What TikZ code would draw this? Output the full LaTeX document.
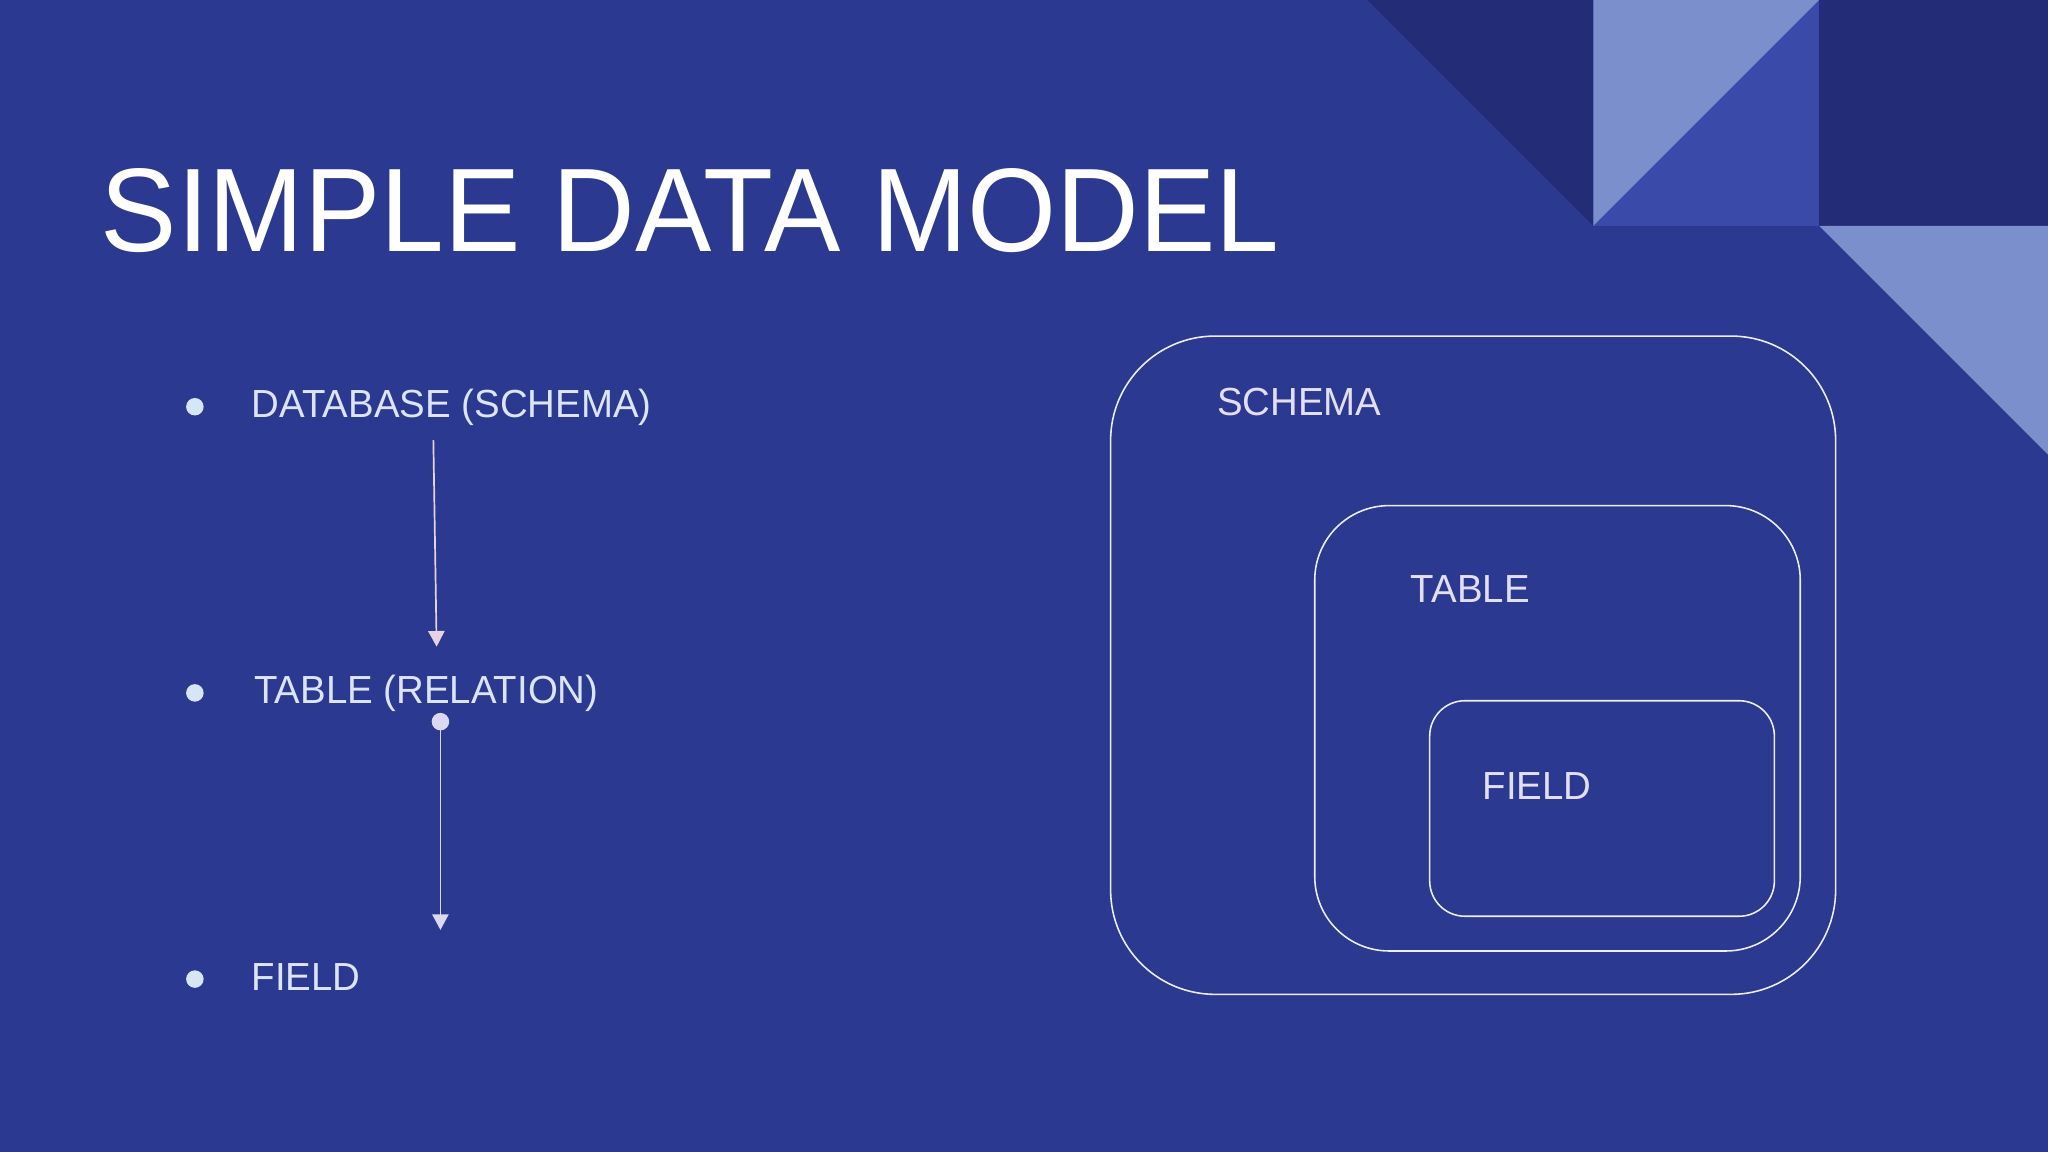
\documentclass[tikz,border=0pt]{standalone}
\usepackage{fontspec}
\setmainfont[FakeStretch=0.98]{Liberation Sans}
\newfontfamily\titlefont[FakeStretch=0.963]{Liberation Sans}
\usetikzlibrary{arrows.meta}
\definecolor{bgblue}{HTML}{2B3990}
\definecolor{darktri}{HTML}{222C77}
\definecolor{lighttri}{HTML}{7A8FCB}
\definecolor{midtri}{HTML}{394AA8}
\definecolor{itemtext}{HTML}{DCE4F7}
\definecolor{bulletcol}{HTML}{D6E6F7}
\definecolor{arrowpink}{HTML}{E8D2E2}
\definecolor{arrowlav}{HTML}{DCD8F0}
\definecolor{boxline}{HTML}{ECEEF8}
\definecolor{boxtext}{HTML}{E2DFF2}
\tikzset{
  itemlabel/.style={anchor=base west, inner sep=0pt, text=itemtext, font=\fontsize{30}{36}\selectfont},
  boxlabel/.style={anchor=base west, inner sep=0pt, text=boxtext, font=\fontsize{30}{36}\selectfont},
  bulletdot/.style={circle, fill=bulletcol, inner sep=0pt, minimum size=13.4pt},
  nestbox/.style={draw=boxline, line width=1.2pt, rectangle, inner sep=0pt},
  flowarrow/.style={line width=1.3pt, -{Triangle[width=12.5pt,length=12pt]}}
}
\begin{document}
\begin{tikzpicture}[x=1pt,y=-1pt]
\useasboundingbox (0,0) rectangle (1568,882);
\fill[bgblue] (0,0) rectangle (1568,882);
% decorative corner shapes
\fill[darktri] (1047,0) -- (1220,0) -- (1220,173) -- cycle;
\fill[lighttri] (1220,0) -- (1393,0) -- (1220,173) -- cycle;
\fill[midtri] (1393,0) -- (1393,173) -- (1220,173) -- cycle;
\fill[darktri] (1393,0) rectangle (1568,173);
\fill[lighttri] (1393,173) -- (1568,173) -- (1568,348) -- cycle;
% title
\node[anchor=base west, inner sep=0pt, text=white, font=\titlefont\fontsize{91}{100}\selectfont] (title) at (77,192.2) {SIMPLE DATA MODEL};
% bullet list
\node[bulletdot] (b1) at (149.2,311.4) {};
\node[bulletdot] (b2) at (149.2,530.5) {};
\node[bulletdot] (b3) at (149.2,749.6) {};
\node[itemlabel] (db) at (192.6,319.5) {DATABASE (SCHEMA)};
\node[itemlabel] (tb) at (194.4,538.6) {TABLE (RELATION)};
\node[itemlabel] (fd) at (192.6,758) {FIELD};
% arrows
\coordinate (a1s) at (331.8,336.9);
\coordinate (a1e) at (334.3,495.1);
\draw[flowarrow, draw=arrowpink, fill=arrowpink] (a1s) -- (a1e);
\node[circle, fill=arrowlav, inner sep=0pt, minimum size=13.4pt] (d2) at (337.2,552.5) {};
\coordinate (a2e) at (337.2,712);
\draw[flowarrow, draw=arrowlav, fill=arrowlav] (d2.center) -- (a2e);
% nested boxes
\node[nestbox, rounded corners=80pt, minimum width=555.1pt, minimum height=504pt] (schema) at (1127.85,509.3) {};
\node[nestbox, rounded corners=57pt, minimum width=371.7pt, minimum height=341pt] (table) at (1192.45,557.6) {};
\node[nestbox, rounded corners=27pt, minimum width=263.9pt, minimum height=165pt] (field) at (1226.55,619) {};
\node[boxlabel] (schemalbl) at (931.6,318.4) {SCHEMA};
\node[boxlabel] (tablelbl) at (1080,461.2) {TABLE};
\node[boxlabel] (fieldlbl) at (1135,612.2) {FIELD};
\end{tikzpicture}
\end{document}
